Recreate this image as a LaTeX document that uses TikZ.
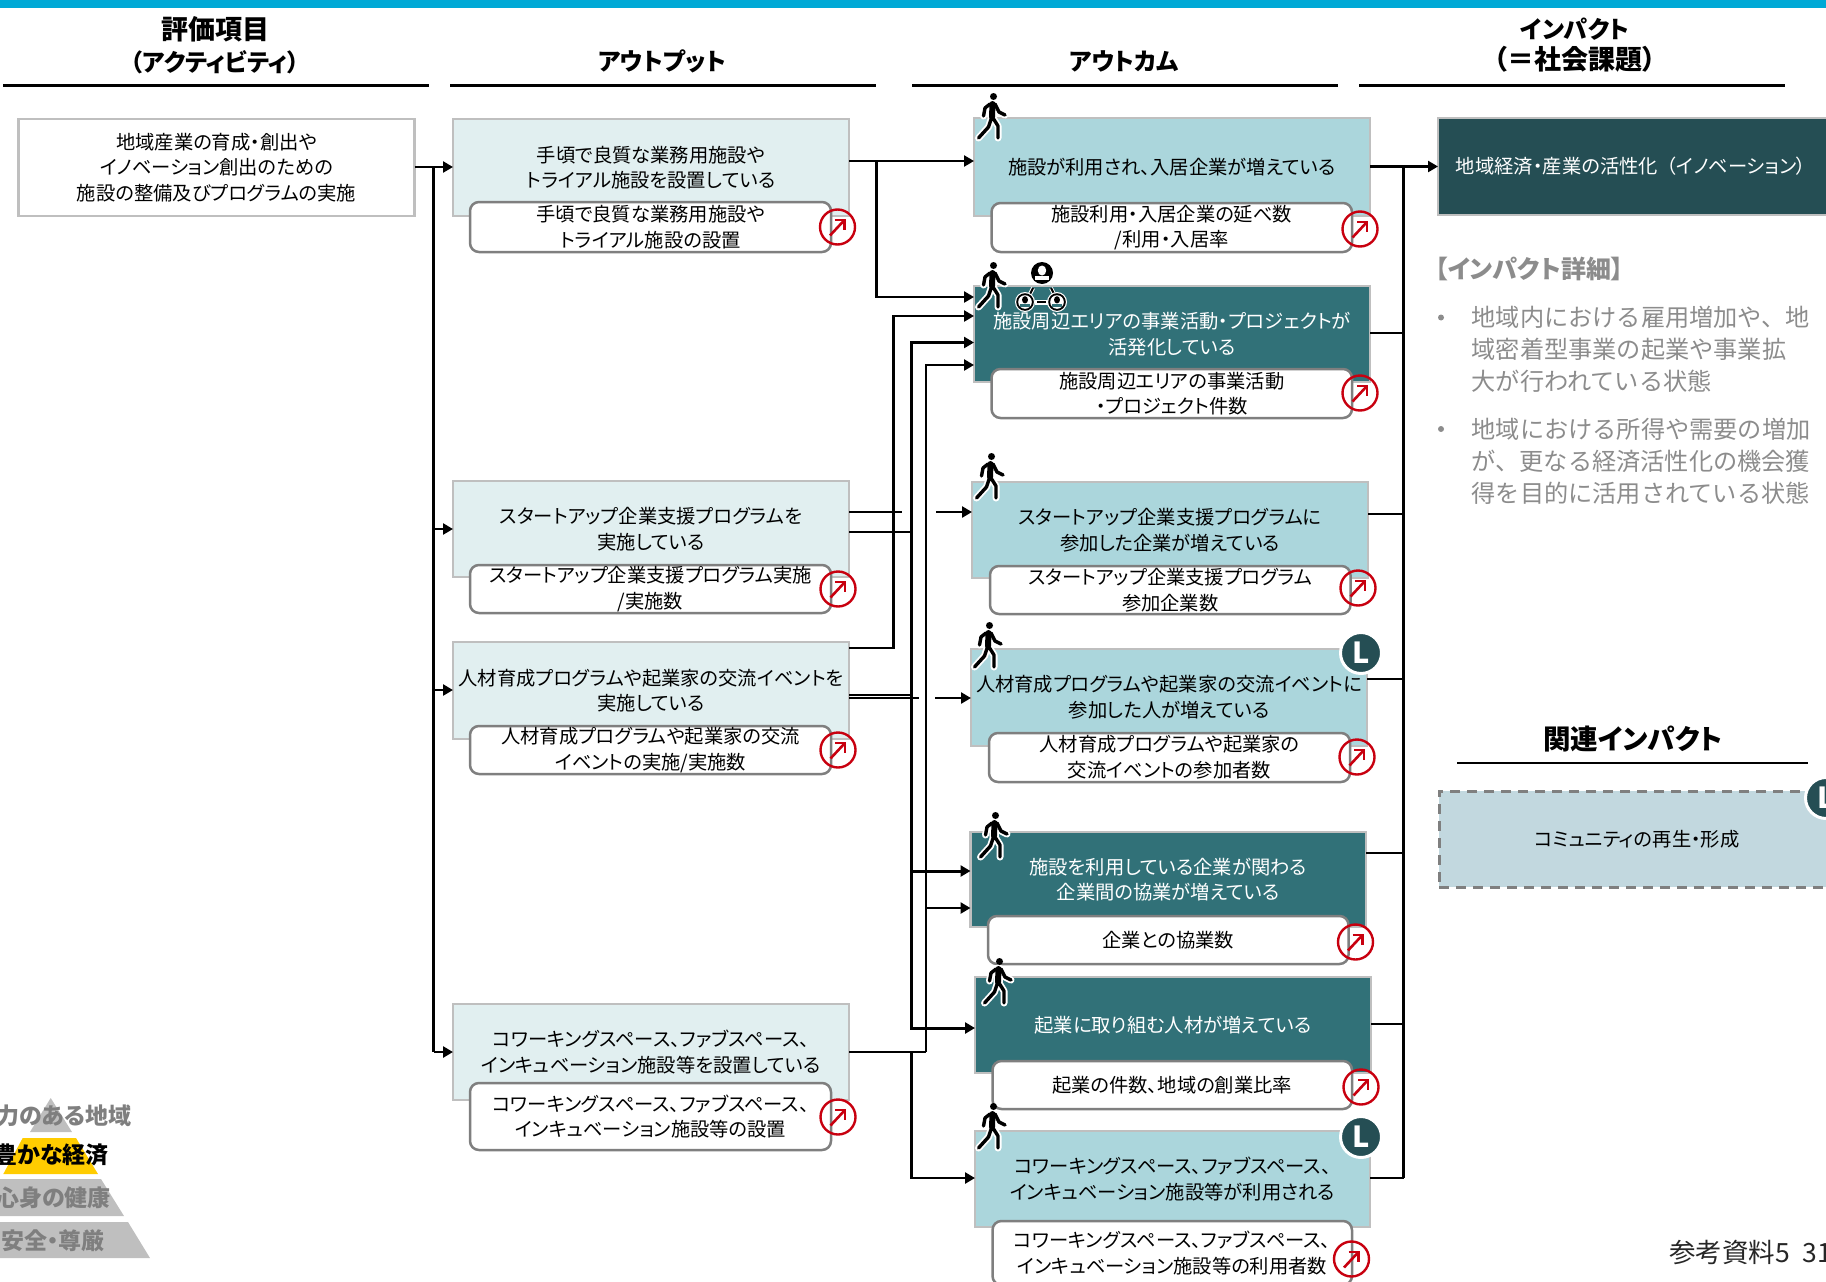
\documentclass[tikz,border=0pt]{standalone}
\usepackage{fontspec}
\usetikzlibrary{arrows.meta}
\setmainfont[RawFeature={+palt}]{Noto Sans CJK JP}
\newfontfamily\plainjp{Noto Sans CJK JP}
\definecolor{topbar}{HTML}{00A9D6}
\definecolor{outfill}{HTML}{E1EFF0}
\definecolor{lightteal}{HTML}{ABD6DC}
\definecolor{darkteal}{HTML}{317178}
\definecolor{deepteal}{HTML}{254E54}
\definecolor{relfill}{HTML}{C2D8DF}
\definecolor{edgegray}{HTML}{BFBFBF}
\definecolor{metricgray}{HTML}{7F7F7F}
\definecolor{textgray}{HTML}{8C8C8C}
\definecolor{redmark}{HTML}{C8000F}
\definecolor{pyrgray}{HTML}{BFBFBF}
\definecolor{pyryellow}{HTML}{FFCC00}
\newcommand\bxnode[7]{%
  \pgfmathsetmacro\bxw{#5-#3}\pgfmathsetmacro\bxh{#6-#4}%
  \pgfmathsetmacro\bxx{(#3+#5)/2}\pgfmathsetmacro\bxy{(#4+#6)/2}%
  \node[#2,minimum width=\bxw pt,minimum height=\bxh pt] (#1) at (\bxx,\bxy) {#7};}
\newcommand\kanjihead{\fontsize{27}{31.5}\selectfont}
\tikzset{
  basebox/.style={rectangle,inner sep=0pt,outer sep=0pt,align=center,line width=2.5pt,draw=edgegray,
     font=\fontsize{19.3}{25.6}\selectfont,text=black},
  actbox/.style={basebox,fill=white},
  outbox/.style={basebox,fill=outfill},
  lightbox/.style={basebox,fill=lightteal},
  darkbox/.style={basebox,fill=darkteal,text=white},
  impbox/.style={basebox,fill=deepteal,text=white},
  relbox/.style={basebox,fill=relfill,draw=metricgray,line width=3pt,dash pattern=on 10pt off 7pt},
  metric/.style={basebox,fill=white,draw=metricgray,rounded corners=9pt},
  lbadge/.style={circle,fill=deepteal,draw=white,line width=3pt,minimum size=41pt,inner sep=0pt,outer sep=0pt,
     text=white,font=\fontsize{29}{29}\selectfont\bfseries},
  headtxt/.style={inner sep=0pt,align=center,font=\fontsize{24}{31.5}\selectfont\bfseries,text=black},
  rule/.style={line width=2.5pt,black},
  ln/.style={line width=2.5pt,black},
  arr/.style={line width=2.5pt,black,-{Triangle[length=10pt,width=11pt]}},
  graytxt/.style={inner sep=0pt,anchor=west,align=left,text=textgray,font=\plainjp\fontsize{24.2}{32}\selectfont},
  pyrtxt/.style={inner sep=0pt,anchor=east,font=\fontsize{23}{24}\selectfont\bfseries},
  upmark/.pic={
    \draw[redmark,line width=2.4pt] (0,0) circle (17.5);
    \draw[redmark,line width=2.6pt] (-7.5,8.5) -- (6.5,-6.5);
    \draw[redmark,line width=2.6pt] (-3,-7) -- (7,-7) -- (7,3);
  },
  walker/.pic={
    \foreach \c/\w/\t in {white/7/9.5,black/3.4/6}{
      \draw[\c,line width=\w pt,line cap=round,line join=round]
        (18,11) -- (22,19) -- (28,22)
        (13,11) -- (8,15) -- (6.5,23)
        (14.5,25) -- (11.5,34) -- (1.5,45)
        (16,25) -- (21,33) -- (21,45);
      \draw[\c,line width=\t pt,line cap=round] (15.5,11) -- (15,24);
    }
    \fill[black] (16.5,3.5) circle (3.5);
  },
  leadicon/.pic={
    \fill[white] (0,0) circle (12.5);
    \fill[black] (0,0) circle (11);
    \fill[white] (0,-2.5) ellipse (4.2 and 5);
    \fill[white] (-7,6.5) rectangle (7,2.5);
  },
  teamicon/.pic={
    \fill[white] (0,0) circle (10);
    \fill[black] (0,0) circle (8.8);
    \fill[white] (0,0) circle (6.8);
    \fill[black] (0,-2.2) ellipse (3 and 3.6);
    \fill[darkteal] (-5,4.8) rectangle (5,2);
  },
}
\begin{document}
\begin{tikzpicture}[x=1pt,y=-1pt]
\useasboundingbox (0,0) rectangle (1826,1282);
\clip (0,0) rectangle (1826,1282);
\fill[topbar] (0,0) rectangle (1826,8);

% headers
\node[headtxt] (h1) at (215,45) {{\kanjihead 評価項目}\\（アクティビティ）};
\node[headtxt] (h2) at (662,61) {アウトプット};
\node[headtxt] (h3) at (1124,61) {アウトカム};
\node[headtxt] (h4) at (1575,45) {インパクト\\{\kanjihead （＝社会課題）}};
\coordinate (r1a) at (3,85.5); \coordinate (r1b) at (429,85.5);
\coordinate (r2a) at (450,85.5); \coordinate (r2b) at (876,85.5);
\coordinate (r3a) at (912,85.5); \coordinate (r3b) at (1338,85.5);
\coordinate (r4a) at (1359,85.5); \coordinate (r4b) at (1785,85.5);
\draw[rule] (r1a) -- (r1b); \draw[rule] (r2a) -- (r2b); \draw[rule] (r3a) -- (r3b); \draw[rule] (r4a) -- (r4b);

% activity
\bxnode{act}{actbox}{18.5}{119}{414.5}{216}{地域産業の育成・創出や\\イノベーション創出のための\\施設の整備及びプログラムの実施}

% outputs
\bxnode{out1}{outbox}{453}{119}{849}{216}{手頃で良質な業務用施設や\\トライアル施設を設置している}
\bxnode{out2}{outbox}{453}{481}{849}{577}{スタートアップ企業支援プログラムを\\実施している}
\bxnode{out3}{outbox}{453}{642}{849}{739}{人材育成プログラムや起業家の交流イベントを\\実施している}
\bxnode{out4}{outbox}{453}{1004}{849}{1100}{コワーキングスペース、ファブスペース、\\インキュベーション施設等を設置している}
\bxnode{m1}{metric}{470}{202}{831}{252}{手頃で良質な業務用施設や\\トライアル施設の設置}
\bxnode{m2}{metric}{470}{565}{831}{613}{スタートアップ企業支援プログラム実施\\/実施数}
\bxnode{m3}{metric}{470}{726}{831}{774}{人材育成プログラムや起業家の交流\\イベントの実施/実施数}
\bxnode{m4}{metric}{470}{1083}{831}{1150}{コワーキングスペース、ファブスペース、\\インキュベーション施設等の設置}

% outcomes
\bxnode{o1}{lightbox}{974}{118}{1370}{216}{施設が利用され、入居企業が増えている}
\bxnode{o2}{darkbox}{974}{286}{1370}{382}{施設周辺エリアの事業活動・プロジェクトが\\活発化している}
\bxnode{o3}{lightbox}{972}{482}{1368}{578}{スタートアップ企業支援プログラムに\\参加した企業が増えている}
\bxnode{o4}{lightbox}{971}{649}{1367}{746}{人材育成プログラムや起業家の交流イベントに\\参加した人が増えている}
\bxnode{o5}{darkbox}{970.5}{832}{1366}{927}{施設を利用している企業が関わる\\企業間の協業が増えている}
\bxnode{o6}{darkbox}{975}{977}{1371}{1073}{起業に取り組む人材が増えている}
\bxnode{o7}{lightbox}{975}{1131}{1370}{1227}{コワーキングスペース、ファブスペース、\\インキュベーション施設等が利用される}
\bxnode{q1}{metric}{991.5}{203}{1352}{252}{施設利用・入居企業の延べ数\\/利用・入居率}
\bxnode{q2}{metric}{991.5}{369}{1352}{418}{施設周辺エリアの事業活動\\・プロジェクト件数}
\bxnode{q3}{metric}{990}{566}{1350.5}{614}{スタートアップ企業支援プログラム\\参加企業数}
\bxnode{q4}{metric}{989}{733}{1350}{782}{人材育成プログラムや起業家の\\交流イベントの参加者数}
\bxnode{q5}{metric}{988}{916}{1348.5}{964}{企業との協業数}
\bxnode{q6}{metric}{992.5}{1061}{1352}{1109}{起業の件数、地域の創業比率}
\bxnode{q7}{metric}{992.5}{1221}{1352}{1285}{コワーキングスペース、ファブスペース、\\インキュベーション施設等の利用者数}

% impact
\bxnode{imp}{impbox}{1438}{118}{1830}{215}{\hspace*{-6pt}地域経済・産業の活性化\hspace{9pt}（イノベーション）}
\bxnode{rel}{relbox}{1439}{791}{1835}{887}{コミュニティの再生・形成}
\node[inner sep=0pt,font=\fontsize{27.5}{30}\selectfont\bfseries] (relh) at (1633,739) {関連インパクト};
\coordinate (rela) at (1457,763); \coordinate (relb) at (1808,763);
\draw[rule] (rela) -- (relb);
\node[inner sep=0pt,anchor=west,text=textgray,font=\fontsize{25}{30}\selectfont\bfseries] (dt) at (1435,268.5) {【インパクト詳細】};
\node[graytxt] (b1) at (1471.5,349) {地域内における雇用増加や、地\\域密着型事業の起業や事業拡\\大が行われている状態};
\node[graytxt] (b2) at (1471.5,461) {地域における所得や需要の増加\\が、更なる経済活性化の機会獲\\得を目的に活用されている状態};
\fill[textgray] (1441,317.5) circle (3);
\fill[textgray] (1441,429) circle (3);

% activity to outputs
\coordinate (sL) at (433.5,167);
\draw[arr] (act.east |- sL) -- (out1.west |- sL);
\draw[ln] (sL) -- (433.5,1052);
\draw[arr] (433.5,529) -- (out2.west |- 0,529);
\draw[arr] (433.5,690) -- (out3.west |- 0,690);
\draw[arr] (433.5,1052) -- (out4.west |- 0,1052);

% outputs to outcomes
\draw[arr] (out1.east |- 0,161) -- (o1.west |- 0,161);
\draw[arr] (876.5,161) |- (o2.west |- 0,297);
\draw[arr] (out3.east |- 0,648) -| (893.5,316) -- (o2.west |- 0,316);
\draw[ln] (out2.east |- 0,512) -- (902,512);
\draw[arr] (936,512) -- (o3.west |- 0,512);
\draw[ln] (out2.east |- 0,532) -- (911,532);
\draw[arr,line width=3pt] (911,871) |- (o2.west |- 0,342.5);
\draw[arr,line width=3pt] (911,532) |- (o5.west |- 0,871);
\draw[arr,line width=3pt] (911,871) |- (o6.west |- 0,1028);
\draw[ln] (out3.east |- 0,695) -- (911,695);
\draw[ln] (out3.east |- 0,698) -- (919,698);
\draw[arr] (935,698) -- (o4.west |- 0,698);
\draw[ln] (out4.east |- 0,1052) -- (926,1052);
\draw[arr] (926,1052) |- (o2.west |- 0,365);
\draw[arr] (926,908) -- (o5.west |- 0,908);
\draw[arr] (911.5,1052) |- (o7.west |- 0,1178);

% outcomes to impact
\coordinate (sR) at (1403.5,166.5);
\draw[arr,line width=3pt] (sR) -- (imp.west |- sR);
\draw[ln,line width=3pt] (sR) -- (1403.5,1178);
\draw[ln] (o1.east |- sR) -- (sR);
\draw[ln] (o2.east |- 0,333) -- (1403.5,333);
\draw[ln] (o3.east |- 0,514) -- (1403.5,514);
\draw[ln] (o4.east |- 0,679) -- (1403.5,679);
\draw[ln] (o5.east |- 0,853) -- (1403.5,853);
\draw[ln] (o6.east |- 0,1024) -- (1403.5,1024);
\draw[ln] (o7.east |- 0,1178) -- (1403.5,1178);

% red marks
\foreach \x/\y in {837.5/227,838/589,838/750,838/1117,1360/229,1360/393,1358/588,1357/757,1355.5/942,1361/1087,1351.5/1259}{
  \pic at (\x,\y) {upmark};
}

% walkers
\foreach \x/\y in {977/93,977/262,975/453,973/622,979/812,983/958,977/1103}{
  \pic at (\x,\y) {walker};
}
% community icon
\draw[white,line width=4pt] (1033,288) -- (1030,294);
\draw[white,line width=4pt] (1051,288) -- (1054,294);
\draw[black,line width=2pt] (1033,288) -- (1030,294);
\draw[black,line width=2pt] (1051,288) -- (1054,294);
\fill[white] (1034.5,299.5) rectangle (1047.5,304.5);
\fill[black] (1036.5,300.7) rectangle (1045.5,303.3);
\pic at (1042,273) {leadicon};
\pic at (1025,302) {teamicon};
\pic at (1057,302) {teamicon};

% L badges
\node[lbadge] (l1) at (1361,653) {L};
\node[lbadge] (l2) at (1361,1137) {L};
\node[lbadge] (l3) at (1826,798) {L};

% pyramid
\fill[pyrgray] (50.7,1098) -- (72,1132) -- (30,1132) -- cycle;
\fill[pyryellow] (22.7,1138) -- (76,1138) -- (98,1174) -- (3.3,1174) -- cycle;
\fill[pyrgray] (0,1179) -- (101,1179) -- (124,1216) -- (-23,1216) -- cycle;
\fill[pyrgray] (-30,1222) -- (128,1222) -- (150,1258) -- (-50,1258) -- cycle;
\node[pyrtxt,text=metricgray] (p1) at (132,1116) {力のある地域};
\node[pyrtxt,text=black] (p2) at (109,1155) {豊かな経済};
\node[pyrtxt,text=metricgray] (p3) at (111,1198) {心身の健康};
\node[pyrtxt,text=metricgray] (p4) at (105,1241) {安全・尊厳};

% page number
\node[inner sep=0pt,anchor=west,text=black!85,font=\fontsize{26.5}{28}\selectfont] (pg) at (1669,1252) {参考資料5\hspace{13pt}31};
\end{tikzpicture}
\end{document}
